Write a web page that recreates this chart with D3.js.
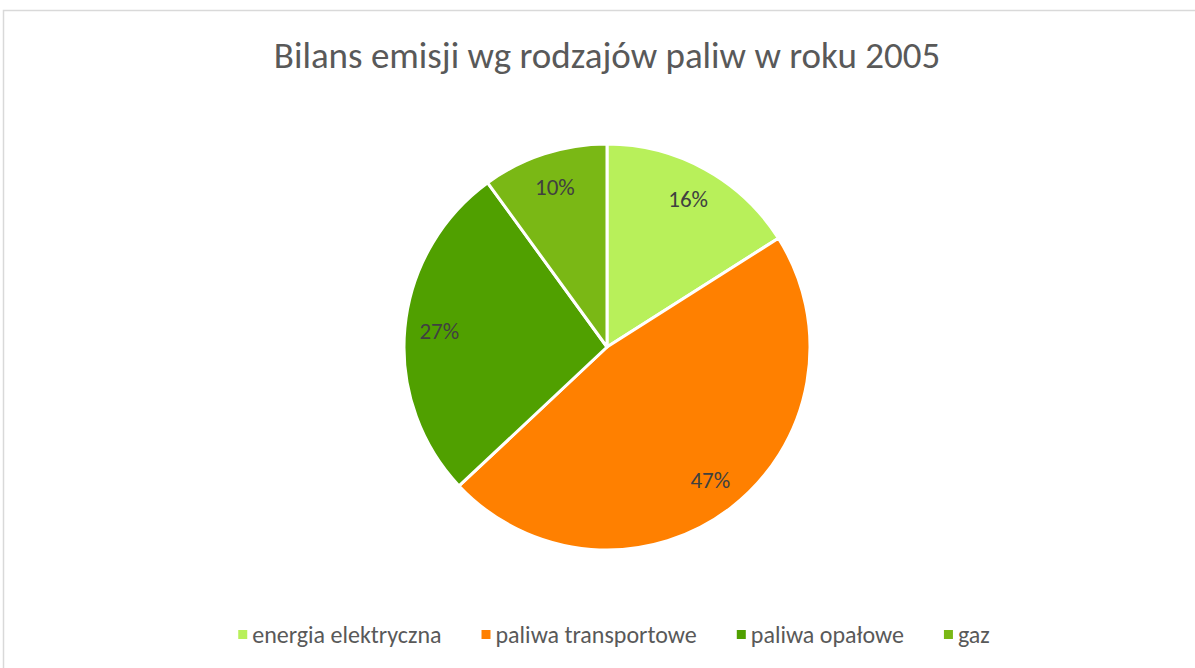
<!DOCTYPE html>
<html>
<head>
<meta charset="utf-8">
<script src="https://cdn.jsdelivr.net/npm/d3@7"></script>
<style>
  html, body { margin: 0; padding: 0; background: #fff; }
  svg { display: block; }
</style>
</head>
<body>
<svg id="chart" width="1195" height="668"></svg>
<script>
const title = "Bilans emisji wg rodzajów paliw w roku 2005";
const categories = ["energia elektryczna", "paliwa transportowe", "paliwa opałowe", "gaz"];
const values = [16, 47, 27, 10];
const colors = ["#B8F05A", "#FF8000", "#50A000", "#7AB815"];

const svg = d3.select("#chart");
const width = 1195;
const font = "Carlito, Lato, 'Liberation Sans Narrow', sans-serif";

// chart area frame
svg.append("rect")
  .attr("x", 3.5).attr("y", 10.5)
  .attr("width", width + 10).attr("height", 700)
  .attr("fill", "#fff")
  .attr("stroke", "#d9d9d9")
  .attr("stroke-width", 1.5);

svg.append("text")
  .attr("x", 607).attr("y", 68)
  .attr("text-anchor", "middle")
  .attr("font-family", font)
  .attr("font-size", 37)
  .attr("fill", "#595959")
  .text(title);

const cx = 607, cy = 347, r = 203;
const data = categories.map((c, i) => ({ name: c, value: values[i], color: colors[i] }));

const pie = d3.pie().value((d) => d.value).sort(null);
const arc = d3.arc().innerRadius(0).outerRadius(r);
const labelArc = d3.arc().innerRadius(r * 0.83).outerRadius(r * 0.83);
const arcs = pie(data);
const total = d3.sum(values);

const g = svg.append("g").attr("transform", `translate(${cx},${cy})`);

g.selectAll("path.slice")
  .data(arcs)
  .join("path")
  .attr("class", "slice")
  .attr("d", arc)
  .attr("fill", (d) => d.data.color)
  .attr("stroke", "#fff")
  .attr("stroke-width", 3)
  .attr("stroke-linejoin", "round");

g.selectAll("text.lbl")
  .data(arcs)
  .join("text")
  .attr("class", "lbl")
  .attr("transform", (d) => `translate(${labelArc.centroid(d)})`)
  .attr("text-anchor", "middle")
  .attr("dy", "0.35em")
  .attr("font-family", font)
  .attr("font-size", 23)
  .attr("fill", "#404040")
  .text((d) => Math.round((d.data.value / total) * 100) + "%");

// legend
const legend = svg.append("g").attr("transform", "translate(0,635)");
const items = legend.selectAll("g.item")
  .data(data)
  .join("g")
  .attr("class", "item");

items.append("rect")
  .attr("x", 0).attr("y", -5)
  .attr("width", 9).attr("height", 9)
  .attr("fill", (d) => d.color);

items.append("text")
  .attr("x", 14)
  .attr("dy", "0.35em")
  .attr("font-family", font)
  .attr("font-size", 24)
  .attr("fill", "#595959")
  .text((d) => d.name);

// lay items out in a centred row
const gap = 40;
const widths = [];
items.each(function () { widths.push(this.getBBox().width); });
const totalW = d3.sum(widths) + gap * (widths.length - 1);
let lx = 614 - totalW / 2;
items.attr("transform", (d, i) => {
  const x = lx;
  lx += widths[i] + gap;
  return `translate(${x},0)`;
});
</script>
</body>
</html>
